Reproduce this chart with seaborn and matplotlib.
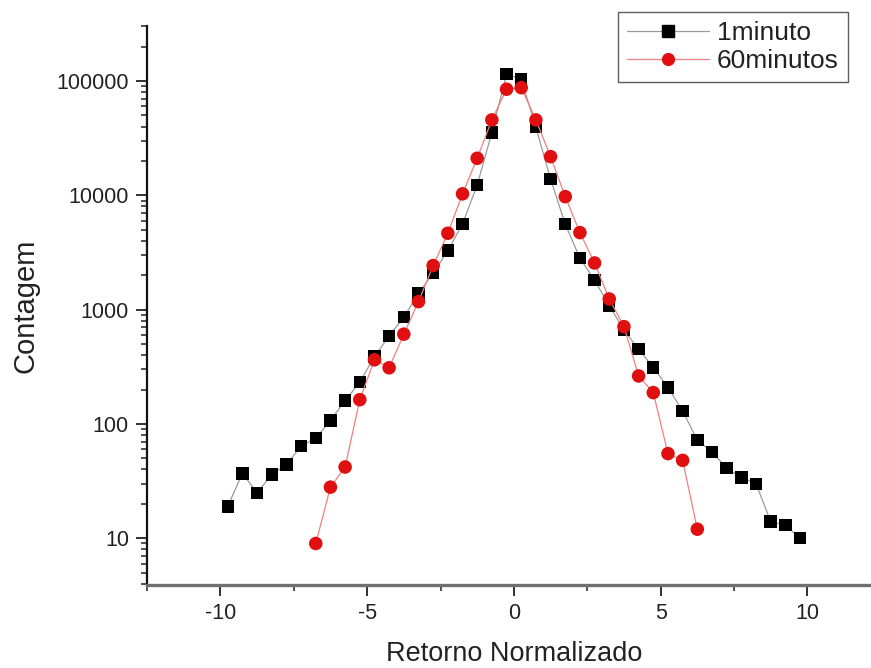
import matplotlib
matplotlib.use("Agg")
import matplotlib.pyplot as plt
from matplotlib.lines import Line2D
from matplotlib.ticker import FixedLocator, LogLocator, MultipleLocator, NullFormatter
import seaborn as sns
import pandas as pd

# Normalised return bins (bin centres) and counts for each sampling interval
x_1min = [-9.75, -9.25, -8.75, -8.25, -7.75, -7.25, -6.75, -6.25, -5.75, -5.25,
          -4.75, -4.25, -3.75, -3.25, -2.75, -2.25, -1.75, -1.25, -0.75, -0.25,
          0.25, 0.75, 1.25, 1.75, 2.25, 2.75, 3.25, 3.75, 4.25, 4.75,
          5.25, 5.75, 6.25, 6.75, 7.25, 7.75, 8.25, 8.75, 9.25, 9.75]
count_1min = [19, 37, 25, 36, 44, 64, 75, 107, 160, 232,
              388, 590, 858, 1390, 2080, 3280, 5620, 12300, 35400, 115000,
              104000, 39400, 13900, 5590, 2820, 1810, 1080, 665, 450, 313,
              208, 130, 72, 57, 41, 34, 30, 14, 13, 10]

x_60min = [-6.75, -6.25, -5.75, -5.25, -4.75, -4.25, -3.75, -3.25, -2.75, -2.25,
           -1.75, -1.25, -0.75, -0.25, 0.25, 0.75, 1.25, 1.75, 2.25, 2.75,
           3.25, 3.75, 4.25, 4.75, 5.25, 5.75, 6.25]
count_60min = [9, 28, 42, 163, 364, 310, 610, 1175, 2430, 4660,
               10300, 21100, 45700, 84800, 87500, 45700, 21800, 9740, 4720, 2560,
               1240, 710, 263, 188, 55, 48, 12]

series_labels = ["1minuto", "60minutos"]
x_ticks = [-10, -5, 0, 5, 10]
y_ticks = [10, 100, 1000, 10000, 100000]
y_ticklabels = ["10", "100", "1000", "10000", "100000"]
x_title = "Retorno Normalizado"
y_title = "Contagem"

sns.set_theme(style="ticks")
plt.rcParams["font.family"] = ["Liberation Sans", "DejaVu Sans"]

df1 = pd.DataFrame({"ret": x_1min, "count": count_1min})
df60 = pd.DataFrame({"ret": x_60min, "count": count_60min})

fig = plt.figure(figsize=(8.71, 6.68), dpi=100)
ax = fig.add_axes([147 / 871, 83 / 668, 733.75 / 871, 559 / 668])

line_1 = "#9a9a9a"
mark_1 = "#000000"
line_60 = "#f08080"
mark_60 = "#e01010"

sns.lineplot(data=df1, x="ret", y="count", color=line_1, lw=0.9, ax=ax, zorder=2)
sns.scatterplot(data=df1, x="ret", y="count", marker="s", s=80, color=mark_1,
                edgecolor="none", linewidth=0, ax=ax, zorder=3)
sns.lineplot(data=df60, x="ret", y="count", color=line_60, lw=0.9, ax=ax, zorder=4)
sns.scatterplot(data=df60, x="ret", y="count", marker="o", s=95, color=mark_60,
                edgecolor="none", linewidth=0, ax=ax, zorder=5)

ax.set_yscale("log")
ax.set_xlim(-12.5, 12.5)
ax.set_ylim(3.9, 3.03e5)

ax.xaxis.set_major_locator(FixedLocator(x_ticks))
ax.xaxis.set_minor_locator(MultipleLocator(2.5))
ax.set_xticks(x_ticks)
ax.set_xticklabels([str(t) for t in x_ticks])
ax.yaxis.set_major_locator(FixedLocator(y_ticks))
ax.set_yticks(y_ticks)
ax.set_yticklabels(y_ticklabels)
ax.yaxis.set_minor_locator(LogLocator(base=10, subs=range(2, 10)))
ax.yaxis.set_minor_formatter(NullFormatter())

ax.tick_params(axis="both", which="major", direction="out", length=8, width=1.3,
               labelsize=15.5, colors="#222222", pad=5)
ax.tick_params(axis="both", which="minor", direction="out", length=4, width=1.1,
               colors="#222222")

for side in ("top", "right"):
    ax.spines[side].set_visible(False)
ax.spines["left"].set_color("#111111")
ax.spines["left"].set_linewidth(1.6)
ax.spines["bottom"].set_color("#707070")
ax.spines["bottom"].set_linewidth(2.4)

ax.set_xlabel(x_title, fontsize=19.5, color="#222222", labelpad=12)
ax.set_ylabel(y_title, fontsize=21, color="#222222", labelpad=12)

handles = [
    Line2D([], [], color=line_1, lw=0.9, marker="s", markersize=8,
           markerfacecolor=mark_1, markeredgecolor=mark_1),
    Line2D([], [], color=line_60, lw=0.9, marker="o", markersize=8.5,
           markerfacecolor=mark_60, markeredgecolor=mark_60),
]
leg = ax.legend(handles, series_labels, loc="upper right",
                bbox_to_anchor=(848 / 871, 1 - 12 / 668),
                bbox_transform=fig.transFigure, borderaxespad=0,
                frameon=True, fancybox=False, shadow=False, fontsize=19,
                handlelength=3.1, handletextpad=0.3, borderpad=0.35,
                labelspacing=0.15)
leg.get_frame().set_edgecolor("#333333")
leg.get_frame().set_linewidth(1.0)
for t in leg.get_texts():
    t.set_color("#222222")

fig.savefig("out.png", dpi=100)
